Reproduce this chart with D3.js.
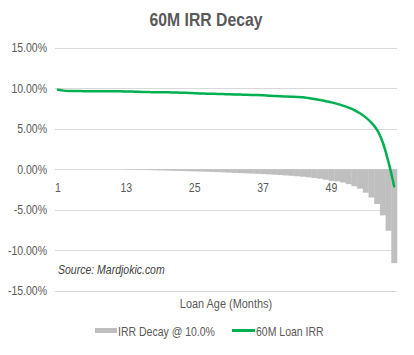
<!DOCTYPE html>
<html><head><meta charset="utf-8">
<script src="https://cdn.jsdelivr.net/npm/d3@7"></script>
<style>html,body{margin:0;padding:0;background:#fff;}svg{display:block;}</style>
</head><body><svg id="c" width="414" height="355"></svg>
<script>
const months = d3.range(1, 61);
const irrLine = [9.82,9.70,9.65,9.64,9.64,9.63,9.63,9.63,9.62,9.62,9.61,9.61,9.60,9.60,9.55,9.53,9.52,9.51,9.50,9.49,
  9.48,9.46,9.44,9.42,9.38,9.35,9.33,9.31,9.29,9.27,9.25,9.23,9.21,9.19,9.17,9.15,9.12,9.08,9.04,9.00,
  8.97,8.94,8.91,8.87,8.78,8.68,8.55,8.40,8.25,8.07,7.85,7.60,7.30,6.90,6.40,5.75,4.85,3.30,0.90,-2.10];
const decayBars = [0,0,0,0,0,0,0,0,0,0,0,0,-0.03,-0.05,-0.07,-0.09,-0.11,-0.13,-0.15,-0.17,
  -0.19,-0.21,-0.23,-0.25,-0.27,-0.29,-0.31,-0.33,-0.36,-0.39,-0.42,-0.45,-0.48,-0.51,-0.54,-0.57,-0.60,-0.64,-0.68,-0.72,
  -0.77,-0.82,-0.87,-0.93,-1.00,-1.08,-1.17,-1.30,-1.45,-1.50,-1.65,-1.85,-2.10,-2.40,-2.90,-3.50,-4.30,-5.70,-7.60,-11.60];
const yTicks = [15,10,5,0,-5,-10,-15];
const xLabels = [1,13,25,37,49];
const title = "60M IRR Decay";
const seriesNames = ["IRR Decay @ 10.0%", "60M Loan IRR"];
const sourceText = "Source: Mardjokic.com";
const xTitle = "Loan Age (Months)";

const svg = d3.select("#c");
const SX = 0.875;
const txtCol = "#595959";
function addText(g, x, y, s, opts) {
  const t = g.append("text")
    .attr("transform", `translate(${x},${y}) scale(${SX},1)`)
    .attr("font-family", "'Liberation Sans', Arial, sans-serif")
    .attr("font-size", opts.size || 12)
    .attr("fill", opts.fill || txtCol)
    .attr("text-anchor", opts.anchor || "start")
    .text(s);
  if (opts.weight) t.attr("font-weight", opts.weight);
  if (opts.style) t.attr("font-style", opts.style);
  return t;
}

const x = d3.scaleBand().domain(months).range([55, 397]).padding(0);
const y = d3.scaleLinear().domain([-15, 15]).range([290.7, 47.7]);

// gridlines
svg.append("g").selectAll("line").data(yTicks).join("line")
  .attr("x1", 55).attr("x2", 397)
  .attr("y1", d => Math.round(y(d)) + 0.5).attr("y2", d => Math.round(y(d)) + 0.5)
  .attr("stroke", "#d9d9d9").attr("stroke-width", 1);

// y tick labels
const gy = svg.append("g");
yTicks.forEach(t => addText(gy, 47, y(t) + 4.5, t.toFixed(2) + "%", {size: 12, anchor: "end"}));

// bars
svg.append("g").selectAll("rect").data(months).join("rect")
  .attr("x", d => x(d))
  .attr("width", x.bandwidth() + 0.3)
  .attr("y", (d, i) => y(Math.max(0, decayBars[i])))
  .attr("height", (d, i) => Math.abs(y(decayBars[i]) - y(0)))
  .attr("fill", "#bfbfbf");

// x labels
const gx = svg.append("g");
xLabels.forEach(m => addText(gx, x(m) + x.bandwidth() / 2, 192, String(m), {size: 12, anchor: "middle"}));

// line
const line = d3.line()
  .x((d, i) => x(months[i]) + x.bandwidth() / 2)
  .y(d => y(d))
  .curve(d3.curveCatmullRom.alpha(0.5));
svg.append("path").datum(irrLine).attr("d", line)
  .attr("fill", "none").attr("stroke", "#00b050").attr("stroke-width", 2.5)
  .attr("stroke-linecap", "round").attr("stroke-linejoin", "round");

// title
addText(svg, 206, 26, title, {size: 18, weight: "bold", anchor: "middle"});
// source
addText(svg, 58, 274, sourceText, {size: 12, style: "italic", fill: "#404040"});
// x title
addText(svg, 226, 308, xTitle, {size: 12.5, anchor: "middle"});

// legend
const lg = svg.append("g");
lg.append("rect").attr("x", 95).attr("y", 328).attr("width", 22).attr("height", 5).attr("fill", "#bfbfbf");
addText(lg, 118, 335.5, seriesNames[0], {size: 12});
lg.append("line").attr("x1", 232).attr("x2", 255).attr("y1", 330.5).attr("y2", 330.5)
  .attr("stroke", "#00b050").attr("stroke-width", 3);
addText(lg, 256, 335.5, seriesNames[1], {size: 12});
</script></body></html>
